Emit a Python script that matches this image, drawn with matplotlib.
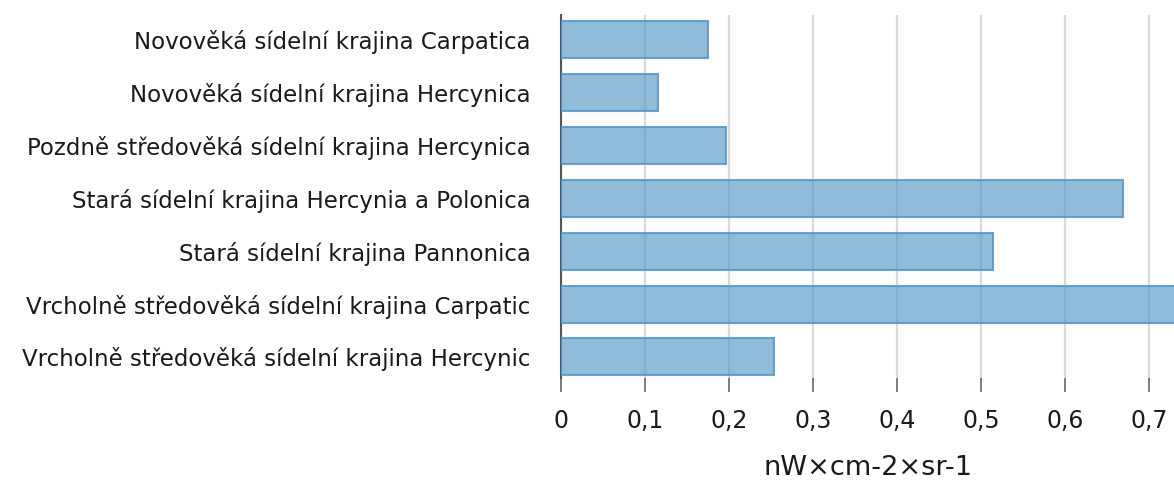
import matplotlib
matplotlib.use("Agg")
import matplotlib.pyplot as plt
from matplotlib.ticker import FuncFormatter

categories = [
    "Novověká sídelní krajina Carpatica",
    "Novověká sídelní krajina Hercynica",
    "Pozdně středověká sídelní krajina Hercynica",
    "Stará sídelní krajina Hercynia a Polonica",
    "Stará sídelní krajina Pannonica",
    "Vrcholně středověká sídelní krajina Carpatic",
    "Vrcholně středověká sídelní krajina Hercynic",
]
values = [0.175, 0.116, 0.196, 0.669, 0.514, 0.74, 0.253]
xticks = [0, 0.1, 0.2, 0.3, 0.4, 0.5, 0.6, 0.7]
xlabel = "nW×cm-2×sr-1"

plt.rcParams['font.family'] = ['DejaVu Sans']
fig = plt.figure(figsize=(11.74, 4.84), dpi=100)
ax = fig.add_axes([561/1174, 1-378/484, 1-561/1174, (378-15)/484])

ypos = list(range(len(categories)))
ax.barh(ypos, values, height=0.70, color=(0.30, 0.58, 0.76, 0.62),
        edgecolor=(0.33, 0.58, 0.78, 0.85), linewidth=1.5, zorder=3)

ax.set_xlim(0, 0.7295)
ax.set_ylim(6.4, -0.47)
ax.set_xticks(xticks)
ax.xaxis.set_major_formatter(FuncFormatter(lambda v, p: ("%g" % round(v, 2)).replace(".", ",")))
ax.set_yticks(ypos)
ax.set_yticklabels(categories)
ax.grid(axis='x', color='#d9d9d9', linewidth=1.6, zorder=0)
ax.set_axisbelow(True)
for s in ['top', 'right', 'bottom']:
    ax.spines[s].set_visible(False)
ax.spines['left'].set_color('#555555')
ax.spines['left'].set_linewidth(1.5)
ax.tick_params(axis='x', length=10, width=1.2, color='#666666', pad=12, labelsize=17, labelcolor='#1a1a1a')
ax.tick_params(axis='y', length=0, pad=22, labelsize=16.5, labelcolor='#1a1a1a')
ax.set_xlabel(xlabel, fontsize=19.5, color='#1a1a1a', labelpad=16)

fig.savefig("out.png", dpi=100)
